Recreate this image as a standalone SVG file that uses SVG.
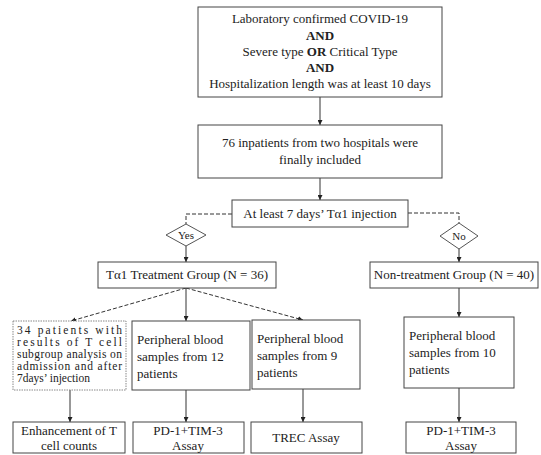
<svg xmlns="http://www.w3.org/2000/svg" width="541" height="455" viewBox="0 0 541 455" font-family="Liberation Serif, Times New Roman, serif">
<defs>
<style>
.b{fill:#fff;stroke:#444;stroke-width:1}
.d{fill:#fff;stroke:#555;stroke-width:1}
.t{font-family:'Liberation Serif','Times New Roman',serif;font-size:13px;fill:#222}
.c{text-anchor:middle}
.bd{font-weight:bold}
.l{fill:none;stroke:#333;stroke-width:1}
.ds{fill:none;stroke:#333;stroke-width:1;stroke-dasharray:4 2}
</style>
<marker id="a" viewBox="0 0 8 8" refX="8" refY="4" markerWidth="5" markerHeight="5" orient="auto"><path d="M0,0 L8,4 L0,8 z" fill="#222"/></marker>
</defs>
<rect width="541" height="455" fill="#fff"/>
<g id="connectors">
<line class="l" x1="320" y1="97" x2="320" y2="125" marker-end="url(#a)"/>
<line class="l" x1="320" y1="178" x2="320" y2="200" marker-end="url(#a)"/>
<polyline class="ds" points="232,214 186,214 186,224"/>
<polyline class="ds" points="408,213 459,213 459,223"/>
<line class="l" x1="186" y1="246" x2="186" y2="262" marker-end="url(#a)"/>
<line class="l" x1="459" y1="249" x2="459" y2="262" marker-end="url(#a)"/>
<line class="ds" x1="186" y1="288" x2="71" y2="321" marker-end="url(#a)"/>
<line class="l" x1="186" y1="288" x2="186" y2="321" marker-end="url(#a)"/>
<line class="ds" x1="186" y1="288" x2="303" y2="320" marker-end="url(#a)"/>
<line class="l" x1="459" y1="288" x2="459" y2="317" marker-end="url(#a)"/>
<line class="l" x1="70" y1="390" x2="70" y2="422" marker-end="url(#a)"/>
<line class="l" x1="186" y1="390" x2="186" y2="422" marker-end="url(#a)"/>
<line class="l" x1="303" y1="389" x2="303" y2="422" marker-end="url(#a)"/>
<line class="l" x1="459" y1="388" x2="459" y2="422" marker-end="url(#a)"/>
</g>
<g id="criteria">
<rect class="b" x="198" y="7" width="244" height="90"/>
<text class="t c" x="320" y="23">Laboratory confirmed COVID-19</text>
<text class="t c bd" x="320" y="40">AND</text>
<text class="t c" x="320" y="56">Severe type <tspan class="bd">OR</tspan> Critical Type</text>
<text class="t c bd" x="320" y="72">AND</text>
<text class="t c" x="320" y="88">Hospitalization length was at least 10 days</text>
</g>
<g id="included">
<rect class="b" x="198" y="125" width="244" height="53"/>
<text class="t c" x="320" y="147">76 inpatients from two hospitals were</text>
<text class="t c" x="320" y="164">finally included</text>
</g>
<g id="decision">
<rect class="b" x="232" y="200" width="176" height="27"/>
<text class="t c" x="320" y="218">At least 7 days’ Tα1 injection</text>
</g>
<g id="yes">
<polygon class="d" points="186,224 206,235 186,246 166,235"/>
<text class="t c" x="186" y="239" style="font-size:11px">Yes</text>
</g>
<g id="no">
<polygon class="d" points="459,223 478,236 459,249 440,236"/>
<text class="t c" x="459" y="240" style="font-size:11px">No</text>
</g>
<g id="treatment">
<rect class="b" x="98" y="262" width="178" height="26"/>
<text class="t c" x="187" y="279">Tα1 Treatment Group (N = 36)</text>
</g>
<g id="nontreatment">
<rect class="b" x="370" y="262" width="168" height="26"/>
<text class="t c" x="454" y="279">Non-treatment Group (N = 40)</text>
</g>
<g id="subgroup">
<rect class="b" x="13" y="321" width="113" height="69" style="stroke:#888;stroke-dasharray:1.5 1"/>
<text class="t" x="17" y="334" style="font-size:11.5px" textLength="105" lengthAdjust="spacing">34 patients with</text>
<text class="t" x="17" y="346" style="font-size:11.5px" textLength="105" lengthAdjust="spacing">results of T cell</text>
<text class="t" x="17" y="358" style="font-size:11.5px" textLength="105" lengthAdjust="spacing">subgroup analysis on</text>
<text class="t" x="17" y="370" style="font-size:11.5px" textLength="105" lengthAdjust="spacing">admission and after</text>
<text class="t" x="17" y="382" style="font-size:11.5px">7days’ injection</text>
</g>
<g id="blood12">
<rect class="b" x="132" y="321" width="118" height="69"/>
<text class="t" x="137" y="344">Peripheral blood</text>
<text class="t" x="137" y="361">samples from 12</text>
<text class="t" x="137" y="378">patients</text>
</g>
<g id="blood9">
<rect class="b" x="252" y="320" width="108" height="69"/>
<text class="t" x="257" y="343">Peripheral blood</text>
<text class="t" x="257" y="360">samples from 9</text>
<text class="t" x="257" y="377">patients</text>
</g>
<g id="blood10">
<rect class="b" x="404" y="317" width="110" height="71"/>
<text class="t" x="409" y="340">Peripheral blood</text>
<text class="t" x="409" y="357">samples from 10</text>
<text class="t" x="409" y="374">patients</text>
</g>
<g id="enhancement">
<rect class="b" x="13" y="422" width="112" height="31"/>
<text class="t c" x="69" y="435">Enhancement of T</text>
<text class="t c" x="69" y="450">cell counts</text>
</g>
<g id="pd1a">
<rect class="b" x="133" y="422" width="111" height="31"/>
<text class="t c" x="188" y="435">PD-1+TIM-3</text>
<text class="t c" x="188" y="450">Assay</text>
</g>
<g id="trec">
<rect class="b" x="251" y="422" width="111" height="31"/>
<text class="t c" x="306" y="442">TREC Assay</text>
</g>
<g id="pd1b">
<rect class="b" x="406" y="422" width="110" height="31"/>
<text class="t c" x="461" y="435">PD-1+TIM-3</text>
<text class="t c" x="461" y="450">Assay</text>
</g>
</svg>
